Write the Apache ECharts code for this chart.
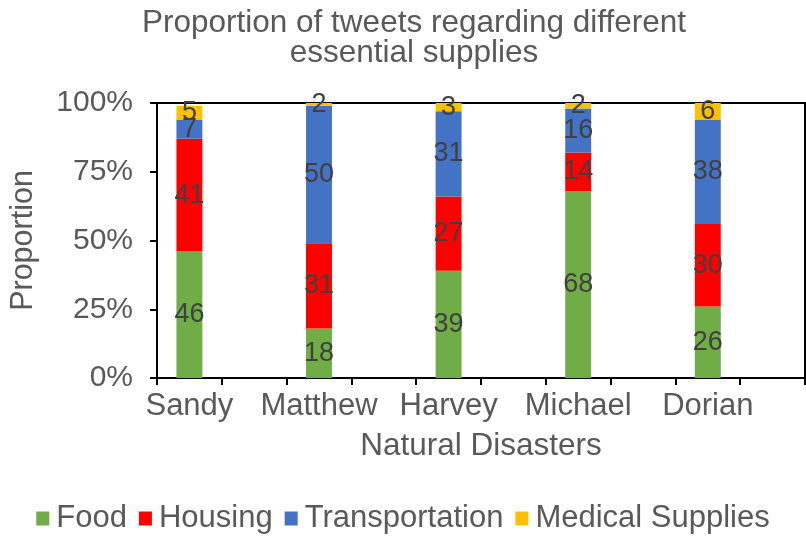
<!DOCTYPE html>
<html>
<head>
<meta charset="utf-8">
<script src="https://cdn.jsdelivr.net/npm/echarts@6/dist/echarts.min.js"></script>
<style>html,body{margin:0;padding:0;background:#fff}#c{width:806px;height:540px}</style>
</head>
<body>
<div id="c"></div>
<script>
const disasters = ['Sandy', 'Matthew', 'Harvey', 'Michael', 'Dorian'];
const food = [46, 18, 39, 68, 26];
const housing = [41, 31, 27, 14, 30];
const transportation = [7, 50, 31, 16, 38];
const medical = [5, 2, 3, 2, 6];
const yTicks = [0, 25, 50, 75, 100];

// Each disaster occupies one slot followed by an empty slot (as in the original layout)
const slots = [];
disasters.forEach(d => { slots.push(d); slots.push(''); });
function spread(arr) {
  const out = [];
  arr.forEach(v => { out.push(v); out.push('-'); });
  return out;
}

const FONT = 'Liberation Sans, Arial, sans-serif';
const TXT = '#595959';

function mk(name, arr, color) {
  return {
    name: name, type: 'bar', stack: 'total', data: spread(arr), barWidth: '40%',
    itemStyle: { color: color },
    label: { show: true, position: 'inside', color: '#404040', fontSize: 27, fontFamily: FONT },
    emphasis: { disabled: true }
  };
}

const chart = echarts.init(document.getElementById('c'));
chart.setOption({
  animation: false,
  title: {
    text: 'Proportion of tweets regarding different\nessential supplies',
    left: 409, textAlign: 'center', top: 3,
    textStyle: { fontFamily: FONT, fontSize: 31.5, lineHeight: 30, fontWeight: 'normal', color: TXT }
  },
  grid: { left: 155, right: 1, top: 103, bottom: 162, show: true, borderColor: '#000', borderWidth: 2 },
  legend: {
    bottom: 1, left: 'center', icon: 'rect', itemWidth: 13, itemHeight: 14, itemGap: 12,
    textStyle: { fontFamily: FONT, fontSize: 31, color: TXT, padding: [0, 0, 0, 2] },
    data: ['Food', 'Housing', 'Transportation', 'Medical Supplies']
  },
  xAxis: {
    type: 'category', data: slots,
    name: 'Natural Disasters', nameLocation: 'middle', nameGap: 52,
    nameTextStyle: { fontFamily: FONT, fontSize: 31.5, color: TXT },
    axisLine: { lineStyle: { color: '#000', width: 2 } },
    axisTick: { show: true, length: 7, lineStyle: { color: '#000', width: 2 } },
    axisLabel: { interval: 0, fontFamily: FONT, fontSize: 31, color: TXT, margin: 13 }
  },
  yAxis: {
    type: 'value', min: yTicks[0], max: yTicks[yTicks.length - 1], interval: 25,
    name: 'Proportion', nameLocation: 'middle', nameGap: 118, nameRotate: 90,
    nameTextStyle: { fontFamily: FONT, fontSize: 30.5, color: TXT },
    splitLine: { show: false },
    axisLine: { show: true, lineStyle: { color: '#000', width: 2 } },
    axisTick: { show: true, length: 7, lineStyle: { color: '#000', width: 2 } },
    axisLabel: { formatter: '{value}%', fontFamily: FONT, fontSize: 30, color: TXT, margin: 24 }
  },
  series: [
    mk('Food', food, '#70AD47'),
    mk('Housing', housing, '#FF0000'),
    mk('Transportation', transportation, '#4472C4'),
    mk('Medical Supplies', medical, '#FFC000')
  ]
});
</script>
</body>
</html>
